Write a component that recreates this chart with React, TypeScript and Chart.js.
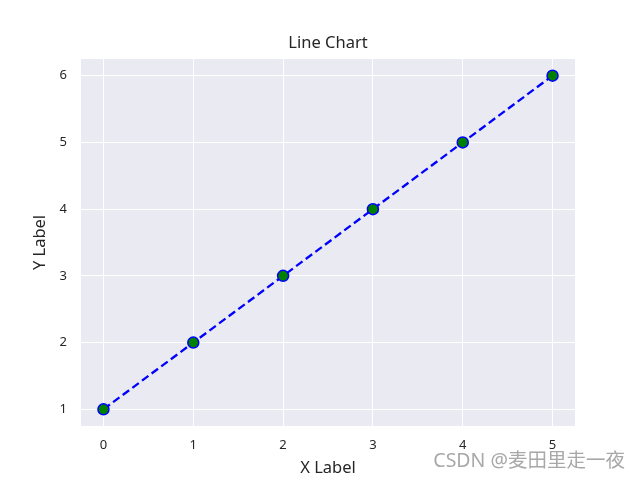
import React, { useEffect, useRef } from "react";
import { Chart, registerables } from "chart.js";

Chart.register(...registerables);

const xValues = [0, 1, 2, 3, 4, 5];
const yValues = [1, 2, 3, 4, 5, 6];
const xTicks = [0, 1, 2, 3, 4, 5];
const yTicks = [1, 2, 3, 4, 5, 6];
const titleText = "Line Chart";
const xLabel = "X Label";
const yLabel = "Y Label";
const watermark = "CSDN @麦田里走一夜";

const FONT = "'Noto Sans', 'Noto Sans CJK SC', sans-serif";

const textPlugin = {
  id: "textPlugin",
  afterDraw(chart: any) {
    const { ctx, chartArea } = chart;
    const cx = (chartArea.left + chartArea.right) / 2;
    const cy = (chartArea.top + chartArea.bottom) / 2;
    ctx.save();
    ctx.fillStyle = "#262626";
    ctx.textAlign = "center";
    ctx.textBaseline = "middle";
    ctx.font = `16.5px ${FONT}`;
    ctx.fillText(titleText, cx, 43);
    ctx.font = `16.5px ${FONT}`;
    ctx.fillText(xLabel, cx, 468);
    ctx.save();
    ctx.translate(40, cy);
    ctx.rotate(-Math.PI / 2);
    ctx.fillText(yLabel, 0, 0);
    ctx.restore();
    ctx.font = `19.5px ${FONT}`;
    ctx.textAlign = "right";
    ctx.lineWidth = 3;
    ctx.strokeStyle = "rgba(255,255,255,0.9)";
    ctx.strokeText(watermark, 625, 461);
    ctx.fillStyle = "#a8a8a8";
    ctx.fillText(watermark, 625, 461);
    ctx.restore();
  },
};

const bgPlugin = {
  id: "bgPlugin",
  beforeDraw(chart: any) {
    const { ctx, chartArea } = chart;
    ctx.save();
    ctx.fillStyle = "#ffffff";
    ctx.fillRect(0, 0, chart.width, chart.height);
    ctx.fillStyle = "#EAEAF2";
    ctx.fillRect(chartArea.left, chartArea.top, chartArea.right - chartArea.left, chartArea.bottom - chartArea.top);
    ctx.restore();
  },
};

export default function App() {
  const ref = useRef<HTMLCanvasElement>(null);
  useEffect(() => {
    if (!ref.current) return;
    const chart = new Chart(ref.current, {
      type: "line",
      data: {
        datasets: [
          {
            data: xValues.map((x, i) => ({ x, y: yValues[i] })),
            borderColor: "#0000ff",
            borderWidth: 2.3,
            borderDash: [8, 4],
            pointBackgroundColor: "#008000",
            pointBorderColor: "#0000ff",
            pointBorderWidth: 1.5,
            pointRadius: 5.5,
            fill: false,
            tension: 0,
          },
        ],
      },
      options: {
        responsive: false,
        animation: false,
        layout: { padding: { top: 59, right: 65, left: 0, bottom: 0 } },
        plugins: { legend: { display: false }, tooltip: { enabled: false }, title: { display: false } },
        scales: {
          x: {
            type: "linear",
            min: -0.25,
            max: 5.25,
            border: { display: false },
            grid: { color: "#ffffff", lineWidth: 1, drawTicks: false },
            ticks: { color: "#262626", font: { size: 13, family: FONT }, padding: 11 },
            afterBuildTicks: (axis: any) => {
              axis.ticks = xTicks.map((v) => ({ value: v }));
            },
            afterFit: (axis: any) => {
              axis.height = 54;
            },
          },
          y: {
            type: "linear",
            min: 0.75,
            max: 6.25,
            border: { display: false },
            grid: { color: "#ffffff", lineWidth: 1, drawTicks: false },
            ticks: { color: "#262626", font: { size: 13, family: FONT }, padding: 14 },
            afterBuildTicks: (axis: any) => {
              axis.ticks = yTicks.map((v) => ({ value: v }));
            },
            afterFit: (axis: any) => {
              axis.width = 81;
            },
          },
        },
      },
      plugins: [bgPlugin, textPlugin],
    } as any);
    return () => chart.destroy();
  }, []);
  return (
    <div style={{ position: "absolute", left: 0, top: 0, width: 640, height: 480 }}>
      <canvas ref={ref} width={640} height={480} />
    </div>
  );
}
